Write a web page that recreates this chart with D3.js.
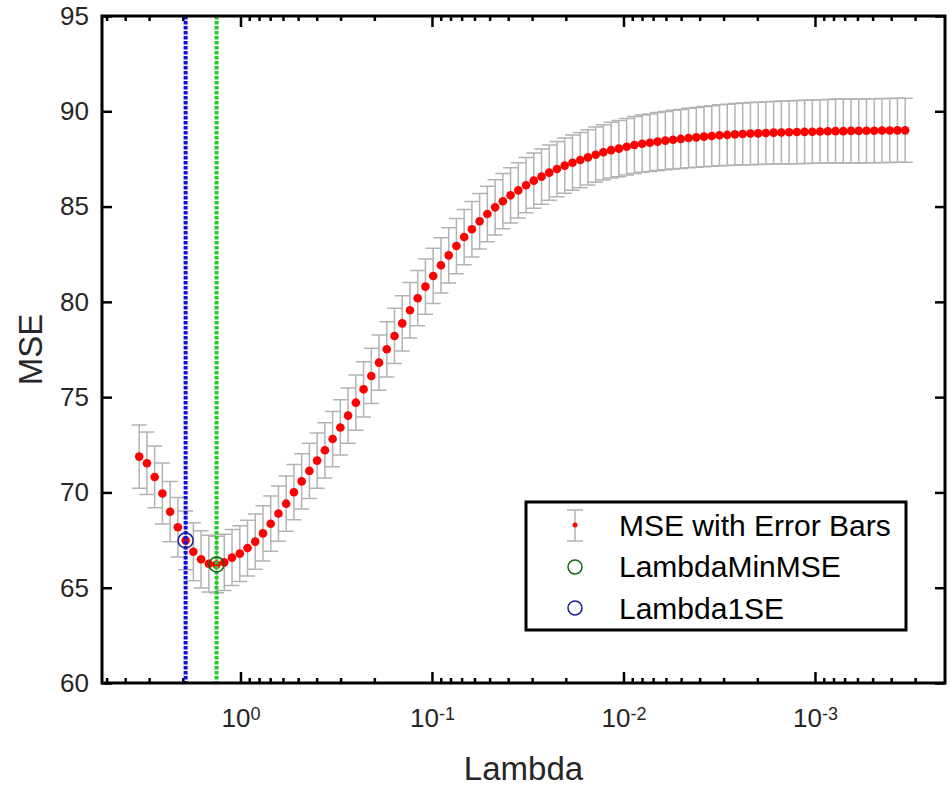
<!DOCTYPE html>
<html>
<head>
<meta charset="utf-8">
<script src="https://cdn.jsdelivr.net/npm/d3@7"></script>
<style>
  body { margin: 0; background: #fff; }
  text { font-family: "Liberation Sans", Arial, sans-serif; }
</style>
</head>
<body>
<div id="chart-area"></div>
<script>
// lambda grid (x), cross-validated MSE and its standard error
var lambda = [3.380, 3.080, 2.806, 2.557, 2.330, 2.123, 1.934, 1.762, 1.606, 1.463,
    1.333, 1.215, 1.107, 1.0085, 0.9190, 0.8373, 0.7630, 0.6952, 0.6334, 0.5772,
    0.5259, 0.4792, 0.4366, 0.3978, 0.3624, 0.3302, 0.3009, 0.2742, 0.2498, 0.2276,
    0.2074, 0.1890, 0.1722, 0.1569, 0.1430, 0.1303, 0.1187, 0.1082, 0.09854, 0.08976,
    0.08179, 0.07452, 0.06790, 0.06187, 0.05637, 0.05137, 0.04680, 0.04265, 0.03886, 0.03541,
    0.03226, 0.02940, 0.02678, 0.02441, 0.02224, 0.02026, 0.01846, 0.01682, 0.01533, 0.01397,
    0.01273, 0.01160, 0.01057, 0.009627, 0.008770, 0.007991, 0.007281, 0.006635, 0.006045, 0.005508,
    0.005019, 0.004573, 0.004167, 0.003797, 0.003459, 0.003152, 0.002872, 0.002617, 0.002384, 0.002173,
    0.001980, 0.001804, 0.001644, 0.001498, 0.001365, 0.001243, 0.001133, 0.001032, 0.0009406, 0.0008569,
    0.0007808, 0.0007114, 0.0006482, 0.0005906, 0.0005382, 0.0004904, 0.0004468, 0.0004071, 0.0003709, 0.0003380];

var mse = [71.88, 71.53, 70.81, 69.94, 68.99, 68.17, 67.48, 66.89, 66.49, 66.26,
    66.22, 66.33, 66.58, 66.79, 67.08, 67.42, 67.85, 68.36, 68.89, 69.41,
    70.01, 70.58, 71.13, 71.67, 72.21, 72.80, 73.41, 74.03, 74.71, 75.41,
    76.11, 76.81, 77.51, 78.21, 78.87, 79.56, 80.19, 80.80, 81.36, 81.92,
    82.44, 82.93, 83.40, 83.81, 84.23, 84.61, 84.96, 85.28, 85.59, 85.85,
    86.12, 86.36, 86.57, 86.78, 86.97, 87.15, 87.30, 87.44, 87.58, 87.72,
    87.85, 87.96, 88.04, 88.14, 88.23, 88.30, 88.35, 88.41, 88.46, 88.51,
    88.55, 88.60, 88.63, 88.67, 88.70, 88.74, 88.76, 88.79, 88.81, 88.83,
    88.84, 88.86, 88.88, 88.89, 88.90, 88.91, 88.92, 88.93, 88.94, 88.95,
    88.96, 88.96, 88.97, 88.97, 88.98, 88.98, 88.99, 88.99, 89.00, 89.00];

var mseSE = [1.66, 1.64, 1.62, 1.60, 1.58, 1.56, 1.54, 1.52, 1.50, 1.49,
    1.48, 1.47, 1.47, 1.46, 1.46, 1.45, 1.45, 1.45, 1.45, 1.45,
    1.45, 1.45, 1.45, 1.45, 1.45, 1.45, 1.45, 1.45, 1.45, 1.45,
    1.45, 1.45, 1.45, 1.45, 1.45, 1.45, 1.45, 1.45, 1.45, 1.45,
    1.45, 1.45, 1.45, 1.45, 1.45, 1.45, 1.45, 1.45, 1.45, 1.45,
    1.45, 1.45, 1.45, 1.45, 1.45, 1.45, 1.45, 1.45, 1.45, 1.45,
    1.45, 1.46, 1.47, 1.48, 1.49, 1.50, 1.51, 1.52, 1.53, 1.54,
    1.55, 1.56, 1.57, 1.58, 1.59, 1.60, 1.61, 1.62, 1.62, 1.63,
    1.63, 1.64, 1.64, 1.65, 1.65, 1.66, 1.66, 1.66, 1.67, 1.67,
    1.68, 1.68, 1.68, 1.68, 1.68, 1.68, 1.68, 1.68, 1.68, 1.68];

var lambdaMinMSE = 1.333, minMSE = 66.22;
var lambda1SE = 1.934, mse1SE = 67.48;

var xTicks = [1, 0.1, 0.01, 0.001];
var yTicks = [60, 65, 70, 75, 80, 85, 90, 95];
var legendLabels = ["MSE with Error Bars", "LambdaMinMSE", "Lambda1SE"];

var data = lambda.map(function(l, i){
    return {lambda: l, mse: mse[i], se: mseSE[i]};
});

var width = 950, height = 790;
var box = {left: 102, right: 945, top: 16, bottom: 683};

var svg = d3.select("#chart-area")
    .append("svg")
    .attr("width", width)
    .attr("height", height);

var x = d3.scaleLog()
    .domain([5.286, 2.094e-4])
    .range([box.left, box.right]);

var y = d3.scaleLinear()
    .domain([60, 95])
    .range([box.bottom, box.top]);

// minor ticks 2..9 x 10^k inside the domain
var minor = [];
for (var k = -4; k <= 0; k++) {
    for (var m = 2; m <= 9; m++) {
        var v = m * Math.pow(10, k);
        if (v < 5.286 && v > 2.094e-4) minor.push(v);
    }
}

function styleAxis(g){
    g.select(".domain").remove();
    g.selectAll(".tick line").attr("stroke", "#000").attr("stroke-width", 2.5);
}

// major / minor ticks on all four sides
svg.append("g").attr("transform", "translate(0," + box.bottom + ")")
    .call(d3.axisBottom(x).tickValues(minor).tickSize(-5).tickFormat(""))
    .call(styleAxis);
svg.append("g").attr("transform", "translate(0," + box.top + ")")
    .call(d3.axisTop(x).tickValues(minor).tickSize(-5).tickFormat(""))
    .call(styleAxis);
svg.append("g").attr("transform", "translate(0," + box.top + ")")
    .call(d3.axisTop(x).tickValues(xTicks).tickSize(-11).tickFormat(""))
    .call(styleAxis);
svg.append("g").attr("transform", "translate(" + box.right + ",0)")
    .call(d3.axisRight(y).tickValues(yTicks).tickSize(-10).tickFormat(""))
    .call(styleAxis);

var xAxis = svg.append("g")
    .attr("transform", "translate(0," + box.bottom + ")")
    .call(d3.axisBottom(x).tickValues(xTicks).tickSize(-11).tickPadding(26))
    .call(styleAxis);

xAxis.selectAll(".tick text")
    .attr("font-size", "26px")
    .attr("fill", "#262626")
    .each(function(d){
        var t = d3.select(this);
        t.text(null);
        t.append("tspan").text("10");
        t.append("tspan")
            .attr("dy", "-0.4em")
            .attr("font-size", "18px")
            .text(Math.round(Math.log10(d)));
    });

var yAxis = svg.append("g")
    .attr("transform", "translate(" + box.left + ",0)")
    .call(d3.axisLeft(y).tickValues(yTicks).tickSize(-10).tickPadding(13))
    .call(styleAxis);

yAxis.selectAll(".tick text")
    .attr("font-size", "26px")
    .attr("fill", "#262626");

// axis labels
svg.append("text")
    .attr("x", (box.left + box.right) / 2)
    .attr("y", 780)
    .attr("font-size", "33px")
    .attr("text-anchor", "middle")
    .attr("fill", "#262626")
    .text("Lambda");

svg.append("text")
    .attr("transform", "translate(42," + ((box.top + box.bottom) / 2) + ") rotate(-90)")
    .attr("font-size", "33px")
    .attr("text-anchor", "middle")
    .attr("fill", "#262626")
    .text("MSE");

// error bars
var bars = svg.append("g")
    .attr("stroke", "#b3b3b3")
    .attr("stroke-width", 1.5)
    .attr("fill", "none");

bars.selectAll(".bar")
    .data(data)
    .enter()
    .append("path")
    .attr("d", function(d){
        var cx = x(d.lambda), y1 = y(d.mse + d.se), y2 = y(d.mse - d.se);
        return "M" + (cx - 7.5) + "," + y1 + "H" + (cx + 7.5) +
               "M" + cx + "," + y1 + "V" + y2 +
               "M" + (cx - 7.5) + "," + y2 + "H" + (cx + 7.5);
    });

// MSE points
svg.selectAll(".pt")
    .data(data)
    .enter()
    .append("circle")
    .attr("cx", function(d){ return x(d.lambda); })
    .attr("cy", function(d){ return y(d.mse); })
    .attr("r", 4.3)
    .attr("fill", "#ff0000");

// selected lambdas
svg.append("line")
    .attr("x1", x(lambda1SE)).attr("x2", x(lambda1SE))
    .attr("y1", box.top).attr("y2", box.bottom)
    .attr("stroke", "#1010e0")
    .attr("stroke-width", 4)
    .attr("stroke-dasharray", "3.5,1.5");

svg.append("line")
    .attr("x1", x(lambdaMinMSE)).attr("x2", x(lambdaMinMSE))
    .attr("y1", box.top).attr("y2", box.bottom)
    .attr("stroke", "#28c828")
    .attr("stroke-width", 4)
    .attr("stroke-dasharray", "3.5,1.5");

svg.append("circle")
    .attr("cx", x(lambdaMinMSE)).attr("cy", y(minMSE))
    .attr("r", 7.5)
    .attr("fill", "none")
    .attr("stroke", "#116611")
    .attr("stroke-width", 1.5);

svg.append("circle")
    .attr("cx", x(lambda1SE)).attr("cy", y(mse1SE))
    .attr("r", 7.5)
    .attr("fill", "none")
    .attr("stroke", "#1c1c99")
    .attr("stroke-width", 1.5);

// plot box
svg.append("rect")
    .attr("x", box.left).attr("y", box.top)
    .attr("width", box.right - box.left).attr("height", box.bottom - box.top)
    .attr("fill", "none")
    .attr("stroke", "#000")
    .attr("stroke-width", 3);

// legend
var legend = svg.append("g").attr("transform", "translate(526,502)");

legend.append("rect")
    .attr("width", 380).attr("height", 128)
    .attr("fill", "#fff")
    .attr("stroke", "#000")
    .attr("stroke-width", 3);

legend.append("path")
    .attr("d", "M41,8H57M49,8V39M41,39H57")
    .attr("stroke", "#b3b3b3")
    .attr("stroke-width", 1.5)
    .attr("fill", "none");
legend.append("circle")
    .attr("cx", 49).attr("cy", 23).attr("r", 2.5)
    .attr("fill", "#ff0000");
legend.append("circle")
    .attr("cx", 49).attr("cy", 65).attr("r", 7)
    .attr("fill", "none").attr("stroke", "#116611").attr("stroke-width", 1.5);
legend.append("circle")
    .attr("cx", 49).attr("cy", 106).attr("r", 7)
    .attr("fill", "none").attr("stroke", "#1c1c99").attr("stroke-width", 1.5);

legend.selectAll(".lbl")
    .data(legendLabels)
    .enter()
    .append("text")
    .attr("x", 93)
    .attr("y", function(d, i){ return 23 + i * 41.5; })
    .attr("dy", "0.36em")
    .attr("font-size", "30px")
    .attr("fill", "#000")
    .text(function(d){ return d; });
</script>
</body>
</html>
